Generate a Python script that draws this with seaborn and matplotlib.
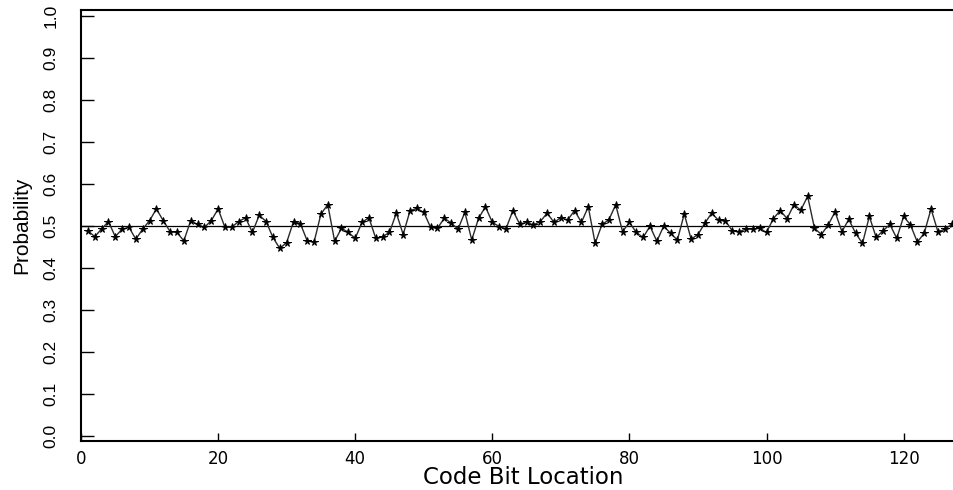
import matplotlib
matplotlib.use("Agg")
import matplotlib.pyplot as plt
import seaborn as sns
import pandas as pd

bit_location = list(range(1, 128))
probability = [
    0.488, 0.474, 0.492, 0.510, 0.474, 0.492, 0.496, 0.468, 0.492, 0.512,
    0.540, 0.512, 0.486, 0.484, 0.464, 0.512, 0.503, 0.496, 0.512, 0.540,
    0.496, 0.497, 0.510, 0.519, 0.484, 0.525, 0.510, 0.472, 0.446, 0.460,
    0.510, 0.505, 0.464, 0.461, 0.528, 0.550, 0.463, 0.494, 0.484, 0.470,
    0.508, 0.519, 0.470, 0.474, 0.484, 0.530, 0.479, 0.536, 0.541, 0.532,
    0.496, 0.494, 0.518, 0.506, 0.492, 0.532, 0.466, 0.518, 0.545, 0.508,
    0.498, 0.493, 0.536, 0.504, 0.508, 0.502, 0.510, 0.530, 0.508, 0.519,
    0.514, 0.536, 0.508, 0.545, 0.458, 0.503, 0.514, 0.550, 0.486, 0.508,
    0.484, 0.472, 0.499, 0.463, 0.499, 0.482, 0.466, 0.528, 0.468, 0.479,
    0.506, 0.530, 0.513, 0.512, 0.488, 0.486, 0.492, 0.492, 0.494, 0.484,
    0.517, 0.536, 0.517, 0.550, 0.537, 0.570, 0.494, 0.479, 0.502, 0.533,
    0.486, 0.515, 0.482, 0.458, 0.522, 0.472, 0.488, 0.503, 0.470, 0.522,
    0.502, 0.461, 0.482, 0.540, 0.486, 0.491, 0.503,
]
x_ticks = [0, 20, 40, 60, 80, 100, 120]
y_ticks = [0.0, 0.1, 0.2, 0.3, 0.4, 0.5, 0.6, 0.7, 0.8, 0.9, 1.0]
reference_level = 0.5

df = pd.DataFrame({"Code Bit Location": bit_location, "Probability": probability})

sns.set_style("white")
plt.rcParams['font.family'] = ['DejaVu Sans']

fig = plt.figure(figsize=(9.54, 4.9), dpi=100)
ax = fig.add_axes([81 / 954, (490 - 440.5) / 490, (954 - 81) / 954, (440.5 - 10) / 490])

ax.axhline(reference_level, color="black", lw=0.9, zorder=1)
sns.lineplot(data=df, x="Code Bit Location", y="Probability", ax=ax,
             estimator=None, color="#2a2a2a", lw=1.0,
             marker="*", markersize=5.5, markerfacecolor="black",
             markeredgecolor="black", markeredgewidth=0.7, zorder=3)

ax.set_xlim(0, 127.35)
ax.set_ylim(-0.0114, 1.0136)
ax.set_xticks(x_ticks)
ax.set_yticks(y_ticks)
ax.set_xticklabels([str(t) for t in x_ticks], fontsize=12, family="DejaVu Sans")
ax.set_yticklabels([f"{t:.1f}" for t in y_ticks], fontsize=12.5,
                   family="Liberation Sans", rotation=90, va="center")

ax.tick_params(axis="x", bottom=True, direction="in", length=6, width=1, pad=7,
               colors="black", labelcolor="black")
ax.tick_params(axis="y", left=True, direction="in", length=9.5, width=1, pad=16,
               colors="black", labelcolor="black")

for side in ["left", "bottom", "top"]:
    ax.spines[side].set_visible(True)
    ax.spines[side].set_color("black")
    ax.spines[side].set_linewidth(1.5)
ax.spines["right"].set_visible(False)

ax.set_xlabel("Code Bit Location", fontsize=16.5, family="DejaVu Sans",
              va="center", color="black")
ax.xaxis.set_label_coords(0.507, -0.087)
ax.set_ylabel("Probability", fontsize=15, family="Liberation Sans",
              va="center", color="black")
ax.yaxis.set_label_coords(-0.0676, 0.5)

fig.savefig("out.png", dpi=100)
